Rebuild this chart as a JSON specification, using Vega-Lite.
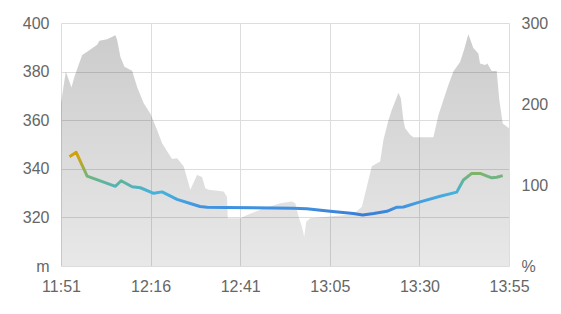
{
  "$schema": "https://vega.github.io/schema/vega-lite/v6.json",
  "autosize": "none",
  "width": 448,
  "height": 243,
  "padding": {"left": 61, "top": 23, "right": 52, "bottom": 48},
  "config": {
    "view": {"stroke": null},
    "axis": {"labelFont": "Liberation Sans", "labelFontSize": 16, "labelColor": "#666666", "domain": false, "ticks": false, "gridColor": "#dddddd", "gridWidth": 1, "title": null}
  },
  "datasets": {
    "area": [
      {"t": 0, "pct": 201}, {"t": 1.33, "pct": 240}, {"t": 2.9, "pct": 220.5}, {"t": 3.73, "pct": 234},
      {"t": 5.86, "pct": 260.4}, {"t": 7.24, "pct": 264.6}, {"t": 10.0, "pct": 273}, {"t": 10.64, "pct": 278},
      {"t": 12.77, "pct": 280}, {"t": 15.07, "pct": 285}, {"t": 15.54, "pct": 279}, {"t": 16.45, "pct": 258},
      {"t": 17.56, "pct": 246}, {"t": 19.69, "pct": 241}, {"t": 21.07, "pct": 221}, {"t": 22.89, "pct": 201},
      {"t": 24.75, "pct": 188}, {"t": 26.6, "pct": 168}, {"t": 27.98, "pct": 151.5}, {"t": 30.74, "pct": 132},
      {"t": 32.13, "pct": 133}, {"t": 33.95, "pct": 123}, {"t": 35.8, "pct": 94}, {"t": 37.66, "pct": 112.5},
      {"t": 39.04, "pct": 110}, {"t": 39.95, "pct": 96}, {"t": 40.86, "pct": 94}, {"t": 45.01, "pct": 92},
      {"t": 45.95, "pct": 85.5}, {"t": 46.17, "pct": 59}, {"t": 49.63, "pct": 59}, {"t": 51.48, "pct": 63},
      {"t": 56.07, "pct": 71}, {"t": 60.69, "pct": 77.4}, {"t": 63.92, "pct": 79.5}, {"t": 64.84, "pct": 77.4},
      {"t": 65.75, "pct": 61}, {"t": 66.69, "pct": 48.6}, {"t": 67.32, "pct": 36}, {"t": 67.88, "pct": 54.6},
      {"t": 68.98, "pct": 59}, {"t": 74.51, "pct": 61}, {"t": 80.95, "pct": 64}, {"t": 83.28, "pct": 73},
      {"t": 84.66, "pct": 98}, {"t": 86.04, "pct": 123}, {"t": 88.34, "pct": 129}, {"t": 89.25, "pct": 156},
      {"t": 90.63, "pct": 180}, {"t": 91.57, "pct": 193}, {"t": 92.48, "pct": 203}, {"t": 93.4, "pct": 214},
      {"t": 94.06, "pct": 207}, {"t": 94.78, "pct": 180}, {"t": 95.25, "pct": 170}, {"t": 96.63, "pct": 162},
      {"t": 97.54, "pct": 159}, {"t": 103.07, "pct": 159}, {"t": 104.46, "pct": 186}, {"t": 105.84, "pct": 205},
      {"t": 107.22, "pct": 223.5}, {"t": 108.6, "pct": 240}, {"t": 110.46, "pct": 252}, {"t": 111.56, "pct": 267},
      {"t": 112.75, "pct": 286}, {"t": 114.13, "pct": 269}, {"t": 115.52, "pct": 262.5}, {"t": 115.98, "pct": 250},
      {"t": 117.37, "pct": 248}, {"t": 118.0, "pct": 250}, {"t": 119.22, "pct": 240.6}, {"t": 120.6, "pct": 240.6},
      {"t": 121.32, "pct": 205}, {"t": 122.26, "pct": 176}, {"t": 124, "pct": 170}
    ],
    "line": [
      {"t": 2.35, "m": 345}, {"t": 4.2, "m": 346.8}, {"t": 7.24, "m": 337}, {"t": 15.07, "m": 332.8},
      {"t": 16.64, "m": 335.1}, {"t": 19.69, "m": 332.6}, {"t": 21.98, "m": 332.2}, {"t": 25.66, "m": 329.9},
      {"t": 27.98, "m": 330.5}, {"t": 32.13, "m": 327.4}, {"t": 35.8, "m": 325.7}, {"t": 38.5, "m": 324.5},
      {"t": 40.5, "m": 324.2}, {"t": 45.95, "m": 324.1}, {"t": 64.37, "m": 323.8}, {"t": 68.07, "m": 323.6},
      {"t": 74.51, "m": 322.5}, {"t": 80.95, "m": 321.6}, {"t": 83.5, "m": 321.0}, {"t": 86.5, "m": 321.6},
      {"t": 90.19, "m": 322.5}, {"t": 92.96, "m": 324.2}, {"t": 94.78, "m": 324.3}, {"t": 99.4, "m": 326.4},
      {"t": 104.93, "m": 328.7}, {"t": 109.54, "m": 330.4}, {"t": 111.37, "m": 335.4}, {"t": 113.69, "m": 338.1},
      {"t": 116.0, "m": 338.1}, {"t": 119.22, "m": 336.3}, {"t": 120.6, "m": 336.5}, {"t": 122.26, "m": 337.2}
    ]
  },
  "encoding": {
    "x": {
      "field": "t", "type": "quantitative",
      "scale": {"domain": [0, 124], "nice": false, "zero": false},
      "axis": {
        "values": [0, 24.8, 49.6, 74.4, 99.2, 124],
        "labelExpr": "['11:51','12:16','12:41','13:05','13:30','13:55'][round(datum.value / 24.8)]",
        "labelPadding": 12, "grid": true, "labelFlush": false
      }
    }
  },
  "layer": [
    {
      "data": {"name": "area"},
      "mark": {
        "type": "area",
        "fill": {"gradient": "linear", "x1": 0, "y1": 0, "x2": 0, "y2": 1,
          "stops": [{"offset": 0, "color": "rgba(0,0,0,0.2)"}, {"offset": 1, "color": "rgba(0,0,0,0.09)"}]}
      },
      "encoding": {
        "y": {
          "field": "pct", "type": "quantitative",
          "scale": {"domain": [0, 300], "nice": false},
          "axis": {"orient": "right", "values": [0, 100, 200, 300], "grid": false, "labelPadding": 12,
            "labelExpr": "datum.value == 0 ? '%' : datum.label", "labelFlush": false}
        }
      }
    },
    {
      "data": {"name": "line"},
      "mark": {
        "type": "line", "interpolate": "linear", "strokeWidth": 3, "strokeJoin": "round",
        "stroke": {"gradient": "linear", "x1": 0, "y1": 0, "x2": 0, "y2": 1,
          "stops": [
            {"offset": 0, "color": "#d4a000"},
            {"offset": 0.12, "color": "#c8a518"},
            {"offset": 0.34, "color": "#7db46c"},
            {"offset": 0.5, "color": "#58b4a8"},
            {"offset": 0.64, "color": "#44b2dc"},
            {"offset": 0.84, "color": "#4498e2"},
            {"offset": 1, "color": "#3a7cd8"}
          ]}
      },
      "encoding": {
        "y": {
          "field": "m", "type": "quantitative",
          "scale": {"domain": [300, 400], "nice": false, "zero": false},
          "axis": {"orient": "left", "values": [300, 320, 340, 360, 380, 400], "grid": true, "labelPadding": 12,
            "labelExpr": "datum.value == 300 ? 'm' : datum.label", "labelFlush": false}
        }
      }
    }
  ],
  "resolve": {"scale": {"y": "independent"}}
}
